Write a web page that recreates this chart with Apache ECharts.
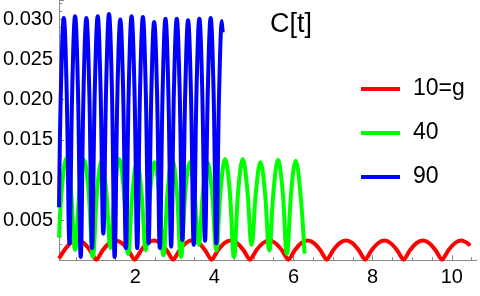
<!DOCTYPE html>
<html>
<head>
<meta charset="utf-8">
<script src="https://cdn.jsdelivr.net/npm/echarts@6/dist/echarts.min.js"></script>
<style>html,body{margin:0;padding:0;background:#fff}#c{width:480px;height:296px}</style>
</head>
<body>
<div id="c"></div>
<script>
const seriesNames = ['10=g', '40', '90'];
const xTickLabels = [2, 4, 6, 8, 10];
const xMinorTicks = [0.5,1,1.5,2,2.5,3,3.5,4,4.5,5,5.5,6,6.5,7,7.5,8,8.5,9,9.5,10,10.5];

const redT = [0.075,0.209,0.370,0.532,0.694,0.856,1.017,1.179,1.341,1.502,1.664,1.826,1.988,2.150,2.311,2.473,2.635,2.796,2.958,3.120,3.282,3.443,3.605,3.767,3.929,4.091,4.252,4.414,4.576,4.738,4.900,5.062,5.223,5.385,5.547,5.708,5.870,6.032,6.194,6.356,6.518,6.679,6.841,7.003,7.164,7.326,7.488,7.650,7.811,7.973,8.135,8.297,8.458,8.620,8.782,8.944,9.106,9.268,9.429,9.591,9.753,9.915,10.076,10.238,10.400,10.460];
const redC = [0.0002,
 0.00123,0.00214,0.00250,0.00214,0.00123,0.00005,
 0.00123,0.00212,0.00245,0.00212,0.00123,0.00005,
 0.00123,0.00212,0.00245,0.00212,0.00123,0.00005,
 0.00123,0.00213,0.00248,0.00213,0.00123,0.00005,
 0.00123,0.00212,0.00245,0.00212,0.00123,0.00005,
 0.00122,0.00210,0.00243,0.00210,0.00122,0.00005,
 0.00123,0.00212,0.00245,0.00212,0.00123,0.00005,
 0.00123,0.00212,0.00245,0.00212,0.00123,0.00005,
 0.00122,0.00210,0.00243,0.00210,0.00122,0.00005,
 0.00123,0.00212,0.00245,0.00212,0.00123,0.00005,
 0.00122,0.00210,0.00243,0.00210,0.0018];

const greenT = [0.075,
 0.148,0.259,0.371,0.482,
 0.594,0.705,0.817,0.928,
 1.040,1.151,1.263,1.374,
 1.486,1.597,1.709,1.820,
 1.932,2.043,2.155,2.266,
 2.378,2.489,2.601,2.712,
 2.824,2.935,3.046,3.157,
 3.269,3.380,3.492,3.603,
 3.715,3.826,3.938,4.049,
 4.161,4.272,4.384,4.495,
 4.607,4.718,4.830,4.941,
 5.053,5.164,5.276,5.387,
 5.499,5.610,5.722,5.833,
 5.945,6.056,6.168,6.279];
const greenC = [0.0028,
 0.0090,0.0127,0.0090,0.0013,
 0.0088,0.0125,0.0088,0.0004,
 0.0088,0.0124,0.0088,0.0015,
 0.0089,0.0126,0.0089,0.0008,
 0.0086,0.0122,0.0086,0.0012,
 0.0086,0.0122,0.0086,0.0006,
 0.0089,0.0126,0.0089,0.0004,
 0.0086,0.0122,0.0086,0.0019,
 0.0086,0.0122,0.0086,0.0012,
 0.0089,0.0126,0.0089,0.0004,
 0.0089,0.0126,0.0089,0.0019,
 0.0086,0.0122,0.0086,0.0012,
 0.0088,0.0125,0.0088,0.0008,
 0.0087,0.0124,0.0087,0.0008];

const blueT = [0.075,
 0.123,0.195,0.266,0.338,
 0.409,0.480,0.552,0.623,
 0.695,0.766,0.838,0.909,
 0.980,1.052,1.123,1.194,
 1.266,1.337,1.409,1.480,
 1.552,1.623,1.694,1.766,
 1.837,1.908,1.980,2.051,
 2.123,2.194,2.265,2.337,
 2.408,2.479,2.551,2.622,
 2.694,2.765,2.836,2.908,
 2.979,3.050,3.122,3.193,
 3.265,3.336,3.407,3.479,
 3.550,3.621,3.693,3.764,
 3.836,3.907,3.978,4.050,
 4.121,4.192,4.210];
const blueC = [0.0066,
 0.0214,0.0302,0.0214,0.0021,
 0.0215,0.0304,0.0215,0.0004,
 0.0214,0.0302,0.0214,0.0015,
 0.0215,0.0304,0.0215,0.0033,
 0.0217,0.0307,0.0217,0.0004,
 0.0212,0.0300,0.0212,0.0015,
 0.0215,0.0304,0.0215,0.0015,
 0.0214,0.0303,0.0214,0.0021,
 0.0210,0.0297,0.0210,0.0015,
 0.0213,0.0301,0.0213,0.0017,
 0.0213,0.0301,0.0213,0.0025,
 0.0211,0.0299,0.0211,0.0019,
 0.0213,0.0301,0.0213,0.0024,
 0.0214,0.0302,0.0214,0.0021,
 0.0211,0.0298,0.0284];

const zip = (a, b) => a.map((v, i) => [v, b[i]]);
const colors = ['#ff0000', '#00ff00', '#0000ff'];
const FONT = '"Liberation Sans", Arial, sans-serif';
const X_MIN = 0.075, X_MAX = 10.63, Y_MAX = 0.03243;

const chart = echarts.init(document.getElementById('c'), null, {renderer: 'canvas'});
const axisGray = '#8a8a8a';
const mk = (name, data, color, smooth) => ({
  name, type: 'line', data, smooth, showSymbol: false, symbol: 'none',
  lineStyle: {color, width: 4}, itemStyle: {color}, clip: true, animation: false
});
chart.setOption({
  animation: false,
  title: {text: 'C[t]', left: 265, top: 6,
    textStyle: {fontFamily: FONT, fontSize: 27, fontWeight: 'normal', color: '#000'}},
  legend: {
    data: seriesNames, orient: 'vertical', left: 356, top: 69,
    itemWidth: 39, itemHeight: 4, itemGap: 14, icon: 'rect',
    textStyle: {fontFamily: FONT, fontSize: 23, color: '#000', lineHeight: 30, padding: [0,0,0,8]}
  },
  grid: {left: 57.7, right: 3.3, top: 0, bottom: 35.9, containLabel: false},
  xAxis: [{
    type: 'value', min: X_MIN, max: X_MAX,
    axisLine: {show: true, onZero: false, lineStyle: {color: axisGray, width: 1}},
    axisTick: {show: true, inside: true, length: 3, customValues: xMinorTicks, lineStyle: {color: axisGray}},
    axisLabel: {show: true, customValues: xTickLabels, margin: 7, color: '#000', fontSize: 20, fontFamily: FONT},
    splitLine: {show: false}
  }, {
    type: 'value', min: X_MIN, max: X_MAX, position: 'bottom',
    axisLine: {show: false, onZero: false},
    axisTick: {show: true, inside: true, length: 5, customValues: xTickLabels, lineStyle: {color: axisGray}},
    axisLabel: {show: false},
    splitLine: {show: false}
  }],
  yAxis: {
    type: 'value', min: 0, max: Y_MAX, interval: 0.005,
    axisLine: {show: true, onZero: false, lineStyle: {color: axisGray, width: 1}},
    axisTick: {show: true, inside: true, length: 5, lineStyle: {color: axisGray}},
    minorTick: {show: true, splitNumber: 5, length: 3, lineStyle: {color: axisGray}},
    axisLabel: {margin: 6, color: '#000', fontSize: 20, fontFamily: FONT, showMaxLabel: false,
      formatter: v => v === 0 ? '' : v.toFixed(3)},
    splitLine: {show: false}
  },
  series: [
    mk(seriesNames[0], zip(redT, redC), colors[0], 0.25),
    mk(seriesNames[1], zip(greenT, greenC), colors[1], 0.4),
    mk(seriesNames[2], zip(blueT, blueC), colors[2], 0.4)
  ]
});
</script>
</body>
</html>
